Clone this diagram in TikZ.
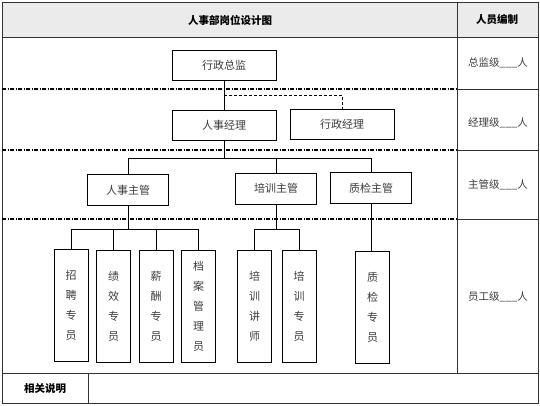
\documentclass[tikz,border=0pt]{standalone}
\usepackage{fontspec}
\setmainfont{Noto Sans CJK SC}
\usepackage{tikz}
\usetikzlibrary{positioning}

\definecolor{headgray}{HTML}{EBEBEB}
\definecolor{textgray}{HTML}{3C3C3C}

\begin{document}
\begin{tikzpicture}[
    x=1pt, y=-1pt,
    post/.style={
        draw,
        line width=0.8pt,
        font=\fontsize{11}{13}\selectfont,
        text=textgray,
        minimum width=104pt,
        minimum height=30pt,
        inner sep=0pt
    },
    lead/.style={post, minimum width=81pt, minimum height=31pt},
    staff/.style={
        draw,
        line width=0.8pt,
        align=center,
        font=\fontsize{11}{20}\selectfont,
        text=textgray,
        minimum width=34pt,
        minimum height=112pt,
        inner sep=0pt
    },
    level/.style={font=\fontsize{10.5}{12}\selectfont, text=textgray},
    title/.style={font=\fontsize{10.5}{12}\selectfont\bfseries},
    relation/.style={line width=0.7pt},
    optional/.style={line width=0.7pt, dash pattern=on 3pt off 2pt},
    divider/.style={line width=1.2pt, dash pattern=on 4pt off 1.5pt on 1pt off 1.5pt},
    grid/.style={line width=0.7pt, draw=black!80}
]

\useasboundingbox (0,0) rectangle (540,405);

\fill[headgray] (2,2) rectangle (538,37);
\draw[grid] (2,2) rectangle (538,403);
\draw[grid] (2,37) -- (538,37);
\draw[grid] (457,2) -- (457,373);
\draw[grid] (2,373) -- (538,373);
\draw[grid] (88,373) -- (88,403);
\draw[grid] (457,89) -- (538,89);
\draw[grid] (457,150) -- (538,150);
\draw[grid] (457,219) -- (538,219);

\draw[divider] (2,89) -- (457,89);
\draw[divider] (2,150) -- (457,150);
\draw[divider] (2,219) -- (457,219);

\node[title] (design) at (230,20) {人事部岗位设计图};
\node[title] (quota) at (497,20) {人员编制};
\node[title] (notes) at (45,389) {相关说明};

\node[level] (director_level) at (498,63) {总监级\_\_\_人};
\node[level] (manager_level) at (498,123) {经理级\_\_\_人};
\node[level] (supervisor_level) at (498,185) {主管级\_\_\_人};
\node[level] (staff_level) at (498,297) {员工级\_\_\_人};

\node[post] (admin_director) at (224,65) {行政总监};
\node[post] (hr_manager) at (224,125) {人事经理};
\node[post] (admin_manager) at (342,124) {行政经理};

\node[lead] (hr_supervisor) at (128,190) {人事主管};
\node[lead] (training_supervisor) at (276,188.5) {培训主管};
\node[lead] (qc_supervisor) at (371,188) {质检主管};

\node[staff] (recruiter) at (71,305) {招\\聘\\专\\员};
\node[staff] (appraiser) at (113.5,306.5) {绩\\效\\专\\员};
\node[staff] (payroll) at (156,306.5) {薪\\酬\\专\\员};
\node[staff] (archivist) at (198.5,306.5) {档\\案\\管\\理\\员};
\node[staff] (trainer) at (254.5,306) {培\\训\\讲\\师};
\node[staff] (training_officer) at (299,306) {培\\训\\专\\员};
\node[staff] (qc_officer) at (372.5,307.5) {质\\检\\专\\员};

\coordinate (fork) at (224,95);

\draw[relation] (admin_director) -- (hr_manager);
\draw[optional] (fork) -| (admin_manager.north);
\draw[relation] (hr_manager.south) -- ++(0,18) -| (hr_supervisor.north);
\draw[relation] (hr_manager.south) -- ++(0,18) -| (training_supervisor.north);
\draw[relation] (hr_manager.south) -- ++(0,18) -| (qc_supervisor.north);
\draw[relation] (hr_supervisor.south) -- ++(0,23) -| (recruiter.north);
\draw[relation] (hr_supervisor.south) -- ++(0,23) -| (appraiser.north);
\draw[relation] (hr_supervisor.south) -- ++(0,23) -| (payroll.north);
\draw[relation] (hr_supervisor.south) -- ++(0,23) -| (archivist.north);
\draw[relation] (training_supervisor.south) -- ++(0,25) -| (trainer.north);
\draw[relation] (training_supervisor.south) -- ++(0,25) -| (training_officer.north);
\draw[relation] (qc_supervisor) -- (qc_officer.north -| qc_supervisor.south);

\end{tikzpicture}
\end{document}
